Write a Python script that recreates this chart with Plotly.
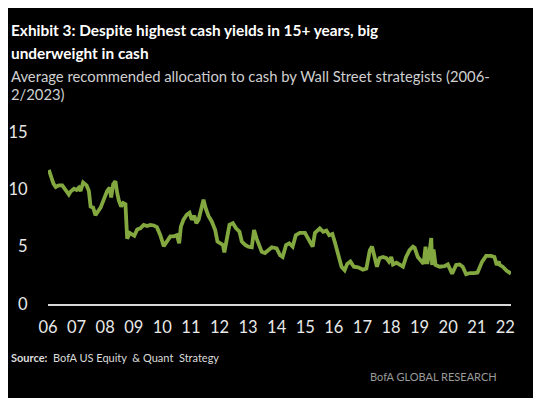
import plotly.graph_objects as go

years = [2006.03, 2006.09, 2006.19, 2006.27, 2006.38, 2006.50, 2006.58, 2006.73, 2006.79, 2006.91,
         2007.00, 2007.08, 2007.14, 2007.23, 2007.35, 2007.43, 2007.49, 2007.58, 2007.66, 2007.74,
         2007.84, 2007.95, 2008.07, 2008.16, 2008.21, 2008.28, 2008.36, 2008.42, 2008.48, 2008.56,
         2008.63, 2008.71, 2008.77, 2008.86, 2008.94, 2009.02, 2009.12, 2009.23, 2009.35, 2009.47,
         2009.58, 2009.70, 2009.81, 2009.93, 2010.05, 2010.16, 2010.28, 2010.40, 2010.51, 2010.59,
         2010.65, 2010.74, 2010.86, 2010.95, 2011.03, 2011.12, 2011.19, 2011.27, 2011.35, 2011.44,
         2011.53, 2011.62, 2011.73, 2011.85, 2011.93, 2012.02, 2012.12, 2012.17, 2012.26, 2012.35,
         2012.47, 2012.58, 2012.70, 2012.78, 2012.90, 2013.01, 2013.13, 2013.21, 2013.30, 2013.40,
         2013.48, 2013.59, 2013.71, 2013.83, 2014.00, 2014.12, 2014.21, 2014.33, 2014.44, 2014.56,
         2014.67, 2014.81, 2014.99, 2015.16, 2015.26, 2015.34, 2015.51, 2015.63, 2015.74, 2015.84,
         2015.95, 2016.03, 2016.15, 2016.27, 2016.38, 2016.47, 2016.58, 2016.70, 2016.85, 2017.02,
         2017.14, 2017.26, 2017.34, 2017.43, 2017.51, 2017.60, 2017.72, 2017.84, 2017.93, 2018.01,
         2018.07, 2018.19, 2018.30, 2018.42, 2018.53, 2018.65, 2018.77, 2018.83, 2018.94, 2019.06,
         2019.14, 2019.21, 2019.27, 2019.35, 2019.41, 2019.44, 2019.49, 2019.56, 2019.70, 2019.87,
         2019.99, 2020.14, 2020.28, 2020.40, 2020.51, 2020.63, 2020.77, 2020.92, 2021.03, 2021.19,
         2021.33, 2021.50, 2021.62, 2021.70, 2021.77, 2021.81, 2021.91, 2022.05, 2022.20]

cash = [11.7, 11.2, 10.5, 10.2, 10.35, 10.35, 10.1, 9.55, 9.8, 10.05,
        9.95, 10.15, 9.85, 10.6, 10.35, 9.85, 8.5, 8.4, 7.75, 8.1,
        8.4, 9.1, 9.85, 10.15, 9.3, 10.45, 10.7, 9.7, 9.0, 8.5,
        8.8, 8.7, 5.7, 6.2, 6.1, 5.95, 6.5, 6.6, 6.9, 6.8,
        6.9, 6.85, 6.7, 6.0, 5.05, 5.45, 5.9, 5.9, 6.0, 5.3,
        6.75, 7.35, 7.8, 7.95, 7.35, 7.7, 7.05, 7.35, 8.25, 9.1,
        8.25, 7.65, 7.2, 6.45, 5.45, 5.3, 5.15, 4.5, 5.9, 6.9,
        7.05, 6.6, 6.3, 5.45, 5.15, 5.0, 4.95, 6.45, 5.7, 5.15,
        4.55, 4.45, 4.7, 4.95, 4.85, 4.25, 4.1, 5.15, 5.3, 5.0,
        6.0, 6.2, 6.2, 5.45, 5.0, 6.2, 6.6, 6.3, 6.4, 6.0,
        6.1, 5.45, 4.4, 3.25, 2.95, 3.5, 3.7, 3.25, 3.2, 3.0,
        3.1, 4.7, 5.0, 4.1, 3.25, 4.0, 4.1, 4.0, 3.7, 4.1,
        3.45, 3.6, 3.45, 3.25, 4.1, 4.7, 5.0, 4.9, 4.1, 3.8,
        3.5, 5.0, 3.5, 4.55, 5.75, 3.4, 4.75, 3.4, 3.25, 3.3,
        3.45, 2.65, 3.4, 3.45, 3.25, 2.6, 2.7, 2.7, 2.75, 3.7,
        4.2, 4.2, 4.1, 3.4, 3.7, 3.4, 3.25, 2.9, 2.65]

tick_vals = list(range(2006, 2023))
tick_text = ["06", "07", "08", "09", "10", "11", "12", "13", "14", "15",
             "16", "17", "18", "19", "20", "21", "22"]
y_ticks = [0, 5, 10, 15]

FONT = "Lato, Roboto, sans-serif"

W, H = 541, 398
OFF = 8  # page offset of the figure inside the browser window
# target plot area in window pixels: x 48..511, y 132..304
ML = 48 - OFF
MT = 132 - OFF
MR = W - (511 - OFF)
MB = H - (304 - OFF)
PW = W - ML - MR
PH = H - MT - MB


def px(x):
    return (x - OFF - ML) / PW


def py(y):
    return (H - MB - (y - OFF)) / PH


fig = go.Figure()
fig.add_trace(go.Scatter(
    x=years, y=cash, mode="lines",
    line=dict(color="#82A83F", width=3.8),
    hoverinfo="skip", showlegend=False, cliponaxis=False,
))

fig.update_layout(
    width=W, height=H,
    paper_bgcolor="black", plot_bgcolor="black",
    margin=dict(l=ML, r=MR, t=MT, b=MB, pad=0, autoexpand=False),
    font=dict(family=FONT, color="#e8e8e8"),
    xaxis=dict(
        range=[2006.0, 2022.2], tickvals=tick_vals, ticktext=tick_text,
        showgrid=False, zeroline=False, showline=True, linecolor="#d8d8d8",
        linewidth=2, ticks="outside", ticklen=7, tickcolor="rgba(0,0,0,0)",
        automargin=False,
        tickfont=dict(size=16.5, color="#e8e8e8", family=FONT),
    ),
    yaxis=dict(
        range=[0, 15], tickvals=y_ticks, ticktext=[str(v) for v in y_ticks],
        showgrid=False, zeroline=False, showline=False,
        ticks="outside", ticklen=16, tickcolor="rgba(0,0,0,0)", automargin=False,
        tickfont=dict(size=16.5, color="#e8e8e8", family=FONT),
    ),
)

anns = [
    ("<b>Exhibit 3: Despite highest cash yields in 15+ years, big</b>", 9, 30, 15.4, "#ffffff"),
    ("<b>underweight in cash</b>", 9, 53, 15.4, "#ffffff"),
    ("Average recommended allocation to cash by Wall Street strategists (2006-", 9, 76, 14.8, "#d0d0d0"),
    ("2/2023)", 9, 94, 14.8, "#d0d0d0"),
    ("<b>Source:</b>  BofA US Equity  & Quant  Strategy", 9, 357, 11, "#dcdcdc"),
]
for text, x, y, size, color in anns:
    fig.add_annotation(
        text=text, xref="paper", yref="paper", x=px(x), y=py(y),
        xanchor="left", yanchor="middle", showarrow=False,
        font=dict(size=size, color=color, family=FONT),
    )

fig.add_annotation(
    text="BofA GLOBAL RESEARCH", xref="paper", yref="paper",
    x=px(499), y=py(376), xanchor="right", yanchor="middle", showarrow=False,
    font=dict(size=11, color="#9a9a9a", family=FONT),
)

fig.write_html("out.html")
